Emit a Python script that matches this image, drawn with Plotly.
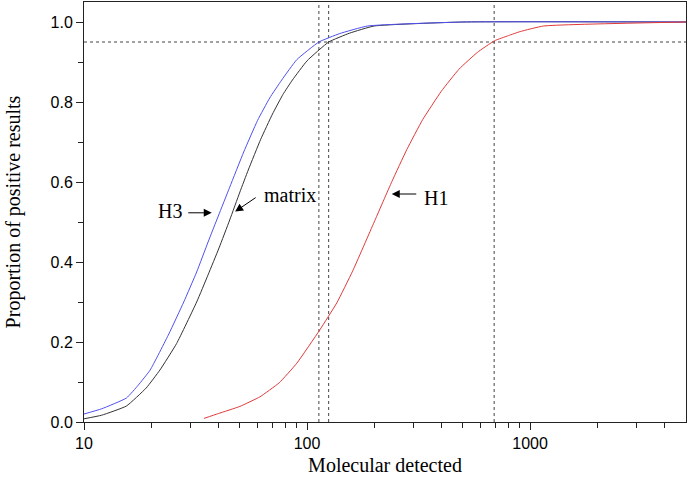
import math
import plotly.graph_objects as go

# ---- data ----
h3_x = [10, 12, 15.5, 17.5, 19.8, 24, 28, 32, 36, 40, 45, 52, 60, 68, 77, 90, 113, 140, 187, 500, 5000]
h3_y = [0.02, 0.033, 0.06, 0.092, 0.13, 0.22, 0.30, 0.375, 0.45, 0.515, 0.587, 0.675, 0.754, 0.81, 0.855, 0.906, 0.95, 0.971, 0.99, 1.0, 1.0]

matrix_x = [10, 12, 15.5, 19, 21.9, 26, 32, 36, 40.3, 45, 50, 54.5, 62, 70, 78, 86, 100, 125, 155, 200, 500, 5000]
matrix_y = [0.008, 0.017, 0.04, 0.085, 0.13, 0.196, 0.3, 0.368, 0.435, 0.505, 0.575, 0.63, 0.707, 0.77, 0.819, 0.855, 0.903, 0.95, 0.972, 0.99, 1.0, 1.0]

h1_x = [34.5, 40, 50, 61.5, 75, 90, 114, 136, 160, 200, 240, 280, 330, 400, 480, 580, 692, 800, 902, 1150, 5000]
h1_y = [0.009, 0.021, 0.039, 0.063, 0.098, 0.147, 0.23, 0.298, 0.377, 0.5, 0.601, 0.681, 0.756, 0.827, 0.882, 0.924, 0.953, 0.966, 0.976, 0.99, 1.0]

threshold_y = 0.95
cut_x = [113, 125, 690]

x_range = [10, 5000]
y_range = [0, 1.05]
y_ticks = [0, 0.2, 0.4, 0.6, 0.8, 1.0]
y_minor = [0.1, 0.3, 0.5, 0.7, 0.9]
x_ticks = [10, 100, 1000]
x_minor = [20, 30, 40, 50, 60, 70, 80, 90,
           200, 300, 400, 500, 600, 700, 800, 900,
           2000, 3000, 4000]

fig = go.Figure()

# reference dashed lines
dash_col = "#444444"
fig.add_trace(go.Scatter(x=x_range, y=[threshold_y, threshold_y], mode="lines",
                         line=dict(color=dash_col, width=1, dash="3px,3px"),
                         showlegend=False, hoverinfo="skip"))
for cx in cut_x:
    fig.add_trace(go.Scatter(x=[cx, cx], y=y_range, mode="lines",
                             line=dict(color=dash_col, width=1, dash="3px,3px"),
                             showlegend=False, hoverinfo="skip"))

fig.add_trace(go.Scatter(x=matrix_x, y=matrix_y, mode="lines", name="matrix",
                         line=dict(color="#333333", width=1, shape="spline", smoothing=0.4)))
fig.add_trace(go.Scatter(x=h3_x, y=h3_y, mode="lines", name="H3",
                         line=dict(color="#5050f0", width=1, shape="spline", smoothing=0.4)))
fig.add_trace(go.Scatter(x=h1_x, y=h1_y, mode="lines", name="H1",
                         line=dict(color="#e03a3a", width=1, shape="spline", smoothing=0.4)))

serif = "Liberation Serif, Times New Roman, serif"
sans = "Liberation Sans, Arial, sans-serif"

def lx(v):
    return math.log10(v)

annotations = [
    # text labels
    dict(x=lx(24.3), y=0.527, text="H3", showarrow=False, font=dict(family=serif, size=20, color="black")),
    dict(x=lx(83.5), y=0.568, text="matrix", showarrow=False, font=dict(family=serif, size=20, color="black")),
    dict(x=lx(380), y=0.56, text="H1", showarrow=False, font=dict(family=serif, size=20, color="black")),
    # arrows
    dict(x=lx(37.4), y=0.523, ax=-25, ay=0, text="", showarrow=True,
         arrowhead=2, arrowsize=1.6, arrowwidth=1, arrowcolor="black"),
    dict(x=lx(47.6), y=0.526, ax=22, ay=-15, text="", showarrow=True,
         arrowhead=2, arrowsize=1.6, arrowwidth=1, arrowcolor="black"),
    dict(x=lx(239.8), y=0.57, ax=26, ay=0, text="", showarrow=True,
         arrowhead=2, arrowsize=1.6, arrowwidth=1, arrowcolor="black"),
]

fig.update_layout(
    width=688, height=485,
    margin=dict(l=84, r=2, t=2, b=63, autoexpand=False),
    paper_bgcolor="white", plot_bgcolor="white",
    showlegend=False,
    annotations=annotations,
    xaxis=dict(
        type="log", range=[lx(x_range[0]), lx(x_range[1])], automargin=False,
        tickmode="array", tickvals=x_ticks, ticktext=[str(v) for v in x_ticks],
        ticks="outside", ticklen=7, tickwidth=1, tickcolor="#222",
        minor=dict(tickmode="array", tickvals=x_minor, ticks="outside", ticklen=5, tickwidth=1, tickcolor="#222"),
        showline=True, linecolor="#222", linewidth=1, mirror=True,
        showgrid=False, zeroline=False,
        tickfont=dict(family=sans, size=16, color="black"),
        title=dict(text="Molecular detected", font=dict(family=serif, size=20, color="black"), standoff=6),
    ),
    yaxis=dict(
        range=y_range, automargin=False,
        tickmode="array", tickvals=y_ticks, ticktext=["%.1f" % v for v in y_ticks],
        ticks="outside", ticklen=7, tickwidth=1, tickcolor="#222",
        minor=dict(tickmode="array", tickvals=y_minor, ticks="outside", ticklen=5, tickwidth=1, tickcolor="#222"),
        showline=True, linecolor="#222", linewidth=1, mirror=True,
        showgrid=False, zeroline=False,
        tickfont=dict(family=sans, size=16, color="black"),
        title=dict(text="Proportion of positive results", font=dict(family=serif, size=20, color="black"), standoff=24),
    ),
)

fig.write_html(
    "out.html",
    config={"displayModeBar": False},
    post_script="document.body.style.margin='0px';document.body.style.padding='0px';"
                "document.documentElement.style.overflow='hidden';",
)
